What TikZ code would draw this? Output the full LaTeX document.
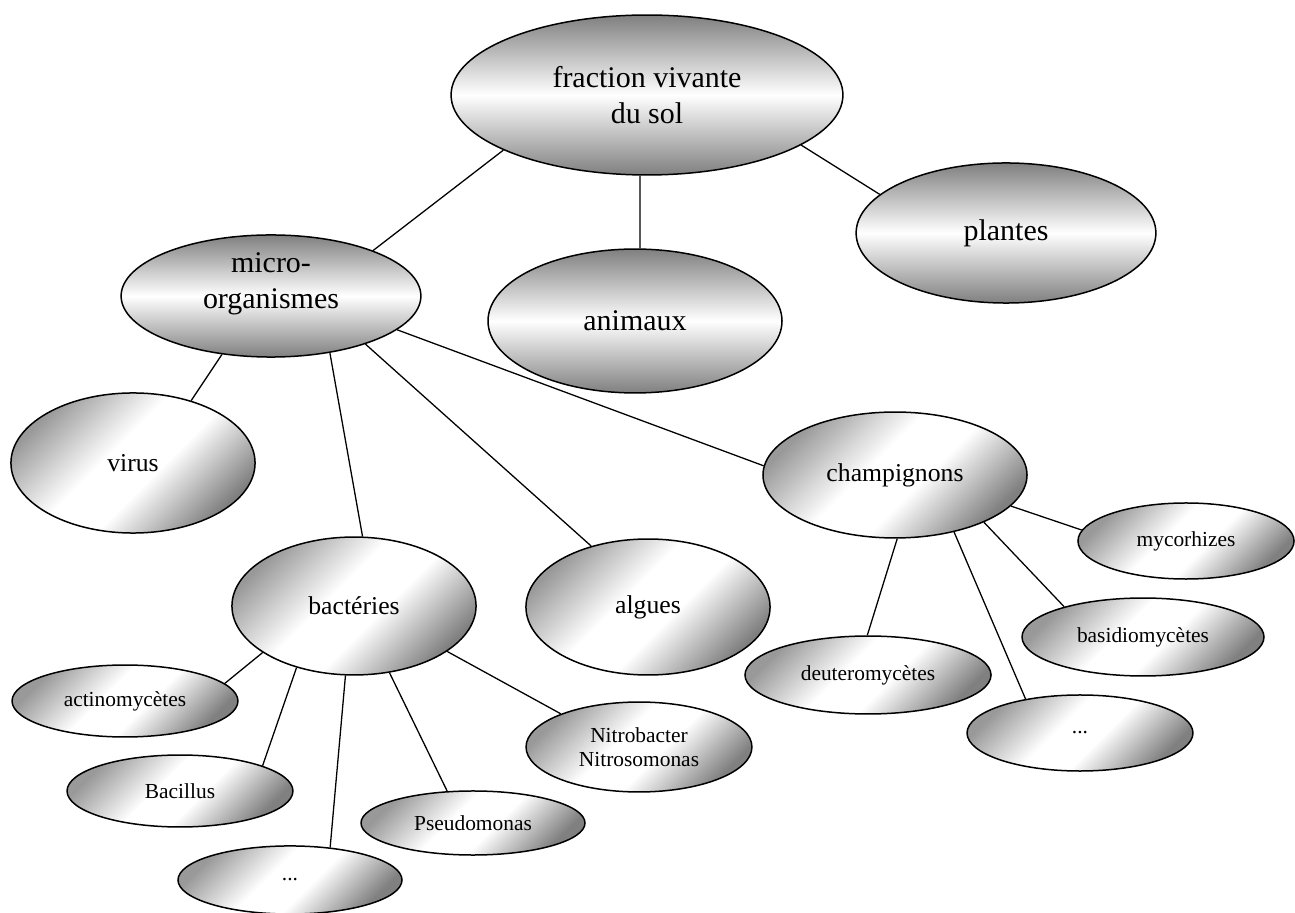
\documentclass[tikz,border=0pt]{standalone}
\usepackage{fontspec}
\setmainfont{Liberation Serif}
\usetikzlibrary{shapes.geometric}
\pgfdeclareverticalshading{diagonale}{100bp}{color(0bp)=(black!50); color(25bp)=(black!50);
    color(44bp)=(white); color(56bp)=(white); color(75bp)=(black!40); color(100bp)=(black!40)}

\begin{document}
\begin{tikzpicture}[x=0.467pt,y=-0.467pt,line width=0.6pt,
    bande/.style={draw,ellipse,line width=0.7pt,inner sep=0pt,align=center,
        top color=black!50,bottom color=black!50,middle color=white},
    diag/.style={draw,ellipse,line width=0.7pt,inner sep=0pt,align=center,
        shading=diagonale,shading angle=45},
    grand/.style={font=\fontsize{14}{16.8}\selectfont},
    moyen/.style={font=\fontsize{12}{14.4}\selectfont},
    petit/.style={font=\fontsize{10}{11}\selectfont}]
    \useasboundingbox (0,0) rectangle (1295,913);

    % niveau 1 et 2
    \node[bande,grand,minimum width=183pt,minimum height=74.7pt] (FVS) at (647,95) {fraction vivante\\du sol};
    \node[bande,grand,minimum width=140pt,minimum height=57pt,text depth=14pt] (MIC) at (271,296) {micro-\\organismes};
    \node[bande,grand,minimum width=137.3pt,minimum height=67.2pt] (ANI) at (635,321) {animaux};
    \node[bande,grand,minimum width=140pt,minimum height=65.4pt] (PLA) at (1006,233) {plantes};

    % micro-organismes
    \node[diag,moyen,minimum width=114pt,minimum height=65.4pt] (VIR) at (133,463) {virus};
    \node[diag,moyen,minimum width=114pt,minimum height=64.4pt] (BAC) at (354,606) {bactéries};
    \node[diag,moyen,minimum width=114pt,minimum height=63.5pt] (ALG) at (648,607) {algues};
    \node[diag,moyen,minimum width=123.3pt,minimum height=58.8pt] (CHA) at (895,475) {champignons};

    % bactéries
    \node[diag,petit,minimum width=105.5pt,minimum height=33.6pt] (ACT) at (125,701) {actinomycètes};
    \node[diag,petit,minimum width=105.5pt,minimum height=33.6pt] (BCL) at (180,791) {Bacillus};
    \node[diag,petit,minimum width=104.6pt,minimum height=31.8pt] (PTB) at (290,880) {...};
    \node[diag,petit,minimum width=104.6pt,minimum height=29.9pt] (PSE) at (473,823) {Pseudomonas};
    \node[diag,petit,minimum width=105.5pt,minimum height=42pt] (NIT) at (639,747) {Nitrobacter\\Nitrosomonas};

    % champignons
    \node[diag,petit,minimum width=100.9pt,minimum height=35.5pt] (MYC) at (1186,541) {mycorhizes};
    \node[diag,petit,minimum width=113pt,minimum height=36.4pt] (BAS) at (1143,637) {basidiomycètes};
    \node[diag,petit,minimum width=114.9pt,minimum height=36.4pt] (DEU) at (868,675) {deuteromycètes};
    \node[diag,petit,minimum width=105.5pt,minimum height=35.5pt] (PTC) at (1080,733) {...};

    \draw (FVS.201.5) -- (MIC.24.4);
    \draw (FVS.265) -- (ANI.86);
    \draw (FVS.342.7) -- (PLA.163.7);

    \draw (MIC.230.8) -- (VIR.47);
    \draw (MIC.316.5) -- (BAC.83.4);
    \draw (MIC.333) -- (ALG.133.5);
    \draw (MIC.345.6) -- (CHA.176);

    \draw (BAC.207) -- (ACT.10.7);
    \draw (BAC.227) -- (BCL.17.8);
    \draw (BAC.263) -- (PTB.39.5);
    \draw (BAC.298) -- (PSE.129);
    \draw (BAC.334.5) -- (NIT.157);

    \draw (CHA.345) -- (MYC.174.6);
    \draw (CHA.332.5) -- (BAS.159.6);
    \draw (CHA.316.4) -- (PTC.148.2);
    \draw (CHA.272.6) -- (DEU.91.5);
\end{tikzpicture}
\end{document}
